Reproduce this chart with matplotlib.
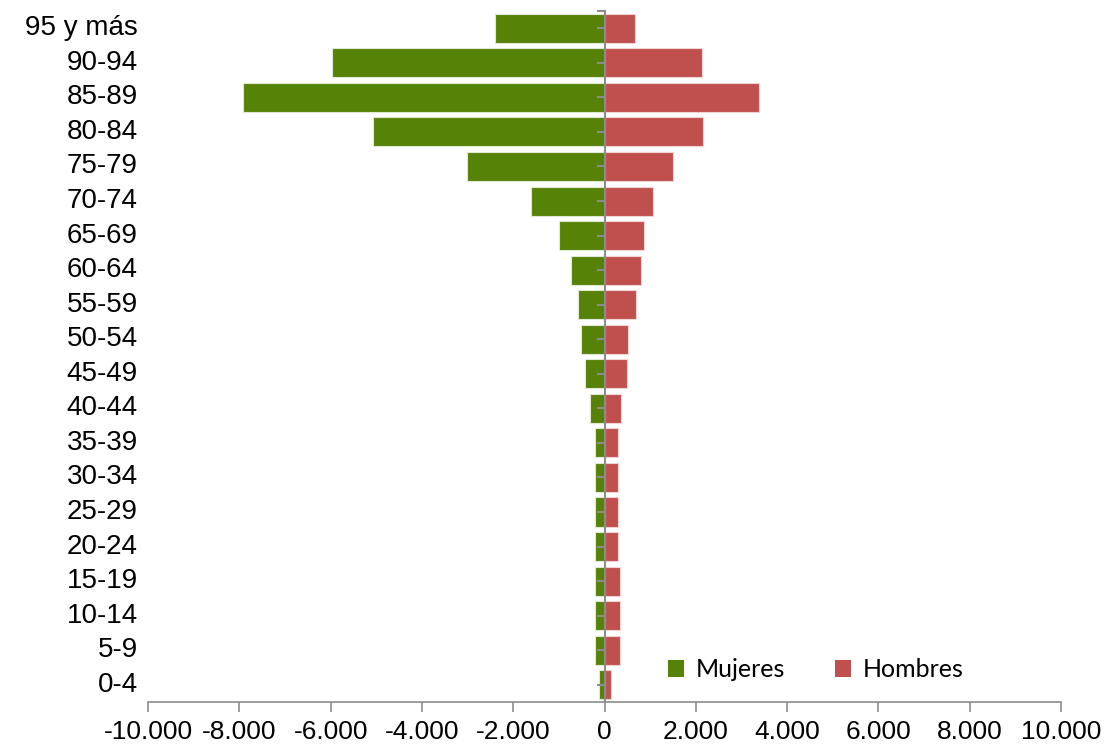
import numpy as np
import matplotlib
matplotlib.use("Agg")
import matplotlib.pyplot as plt
from matplotlib.ticker import FuncFormatter
from matplotlib.patches import Patch

age_groups = ["0-4", "5-9", "10-14", "15-19", "20-24", "25-29", "30-34", "35-39",
              "40-44", "45-49", "50-54", "55-59", "60-64", "65-69", "70-74",
              "75-79", "80-84", "85-89", "90-94", "95 y más"]
mujeres = [125, 200, 200, 200, 200, 200, 200, 200, 315, 425, 505, 575, 730,
           1000, 1605, 3015, 5080, 7930, 5960, 2410]
hombres = [140, 335, 335, 335, 290, 290, 300, 300, 370, 490, 525, 680, 790,
           860, 1060, 1510, 2160, 3380, 2125, 672]

green = "#568208"
red = "#C0504D"
axis_gray = "#8c8c8c"

plt.rcParams['font.family'] = ['Liberation Sans', 'DejaVu Sans']

fig = plt.figure(figsize=(11.08, 7.49), dpi=100)
ax = fig.add_axes([0.1336, 0.0627, 0.8240, 0.9226])

y = np.arange(len(age_groups))
ax.barh(y, -np.array(mujeres), height=0.84, color=green, edgecolor="#dfe8d0", linewidth=0.8)
ax.barh(y, hombres, height=0.84, color=red, edgecolor="#f0d4d3", linewidth=0.8)

ax.set_xlim(-10000, 10000)
ax.set_ylim(-0.5, len(age_groups) - 0.5)

# axes styling
for s in ["top", "right"]:
    ax.spines[s].set_visible(False)
ax.spines["left"].set_position(("data", 0))
ax.spines["left"].set_color(axis_gray)
ax.spines["left"].set_linewidth(1.5)
ax.spines["bottom"].set_color(axis_gray)
ax.spines["bottom"].set_linewidth(1.2)

ax.set_xticks(np.arange(-10000, 10001, 2000))
ax.xaxis.set_major_formatter(FuncFormatter(lambda v, p: "{:,.0f}".format(v).replace(",", ".")))
ax.tick_params(axis="x", direction="out", length=7, width=1.2, color=axis_gray,
               labelsize=19, pad=6)

ax.set_yticks(list(y) + [len(age_groups) - 0.5])
ax.tick_params(axis="y", direction="out", length=6, width=1.5, color=axis_gray, labelleft=False)

for i, lab in enumerate(age_groups):
    ax.text(-0.011, i, lab, transform=ax.get_yaxis_transform(), ha="right", va="center",
            fontsize=20)

handles = [Patch(facecolor=green, label="Mujeres"), Patch(facecolor=red, label="Hombres")]
ax.legend(handles=handles, ncol=2, frameon=False, loc="center left",
          bbox_to_anchor=(0.594, 0.106), bbox_transform=fig.transFigure,
          prop={"family": "Lato", "size": 18}, handlelength=0.65, handleheight=0.65,
          handletextpad=0.45, columnspacing=2.0, borderaxespad=0)

fig.savefig("out.png", dpi=100)
